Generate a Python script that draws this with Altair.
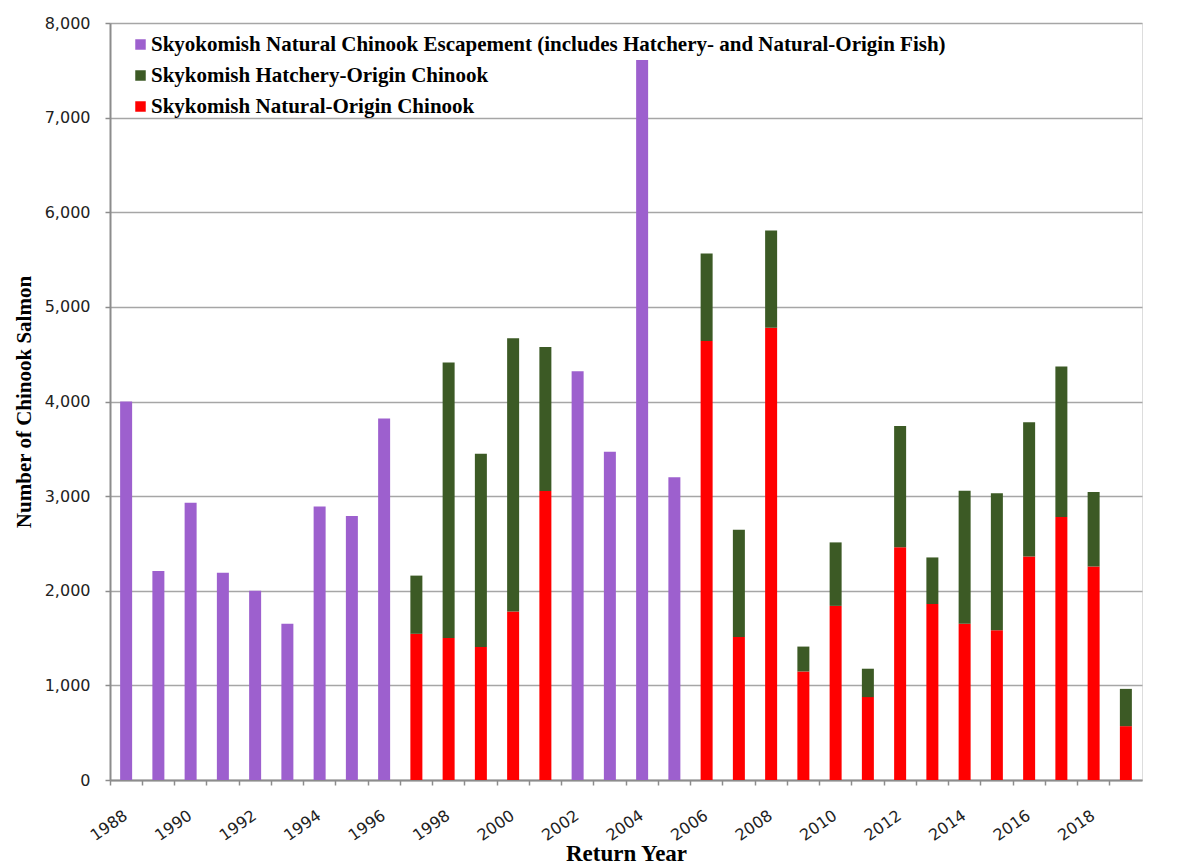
import altair as alt
import pandas as pd

years = list(range(1988, 2020))

escapement_years = [1988, 1989, 1990, 1991, 1992, 1993, 1994, 1995, 1996,
                    2002, 2003, 2004, 2005]
escapement_values = [4000, 2210, 2930, 2190, 2000, 1650, 2890, 2790, 3820,
                     4320, 3470, 7610, 3200]

split_years = [1997, 1998, 1999, 2000, 2001, 2006, 2007, 2008, 2009, 2010,
               2011, 2012, 2013, 2014, 2015, 2016, 2017, 2018, 2019]
natural_values = [1545, 1500, 1405, 1780, 3055, 4640, 1510, 4780, 1147, 1840,
                  876, 2460, 1860, 1652, 1582, 2362, 2780, 2257, 569]
hatchery_values = [615, 2913, 2044, 2888, 1520, 925, 1135, 1027, 263, 671,
                   300, 1282, 492, 1406, 1448, 1420, 1590, 787, 394]

s_esc = "Skyokomish Natural Chinook Escapement (includes Hatchery- and Natural-Origin Fish)"
s_hat = "Skykomish Hatchery-Origin Chinook"
s_nat = "Skykomish Natural-Origin Chinook"
series_names = [s_esc, s_hat, s_nat]
series_colors = ["#9D60CE", "#3C5A25", "#FF0000"]

rows = []
for y, v in zip(escapement_years, escapement_values):
    rows.append({"year": y, "series": s_esc, "value": v, "ord": 2})
for y, n, h in zip(split_years, natural_values, hatchery_values):
    rows.append({"year": y, "series": s_nat, "value": n, "ord": 0})
    rows.append({"year": y, "series": s_hat, "value": h, "ord": 1})
df = pd.DataFrame(rows)

W, H = 1032, 757

chart = alt.Chart(df).mark_bar(size=12).encode(
    x=alt.X("year:O", scale=alt.Scale(domain=years, paddingInner=0, paddingOuter=0),
            axis=alt.Axis(
                title="Return Year",
                titleFont="Liberation Serif", titleFontSize=23, titleFontWeight="bold",
                titleColor="black", titleX=516, titleY=80, titleBaseline="alphabetic",
                labelExpr="datum.value % 2 == 0 ? datum.label : ''",
                labelOverlap=False, labelAngle=-35, labelAlign="right", labelBaseline="top",
                labelFont="DejaVu Sans", labelFontSize=16, labelColor="#222222",
                bandPosition=0, labelPadding=22, labelOffset=-5,
                tickColor="#8c8c8c", tickSize=5, tickWidth=1.5,
                domainColor="#8c8c8c", domainWidth=2, grid=False)),
    y=alt.Y("value:Q", stack="zero",
            scale=alt.Scale(domain=[0, 8000], nice=False),
            axis=alt.Axis(
                title="Number of Chinook Salmon",
                titleFont="Liberation Serif", titleFontSize=21, titleFontWeight="bold",
                titleColor="black", titleX=-86, titleY=H / 2, titleAngle=-90,
                titleAlign="center", titleBaseline="middle",
                values=list(range(0, 8001, 1000)), format=",.0f",
                labelFont="DejaVu Sans", labelFontSize=16, labelColor="#222222",
                labelPadding=15, tickColor="#8c8c8c", tickSize=5, tickWidth=1.5,
                domainColor="#8c8c8c", domainWidth=2,
                grid=True, gridColor="#a6a6a6", gridWidth=1.5)),
    color=alt.Color("series:N",
                    scale=alt.Scale(domain=series_names, range=series_colors),
                    legend=alt.Legend(
                        title=None, orient="none", legendX=20, legendY=11, padding=0,
                        symbolType="square", symbolSize=110, symbolStrokeWidth=0,
                        labelFont="Liberation Serif", labelFontSize=21,
                        labelFontWeight="bold", labelColor="black", labelOffset=0,
                        labelLimit=1000, rowPadding=9)),
    order=alt.Order("ord:Q", sort="ascending"),
).properties(
    width=W, height=H,
    autosize=alt.AutoSizeParams(type="none"),
    padding={"left": 102, "top": 15, "right": 20, "bottom": 84},
).configure_view(
    stroke="#555555", strokeWidth=1.5
).configure(background="white")

chart.save("out.html", embed_options={"renderer": "svg", "actions": False})
